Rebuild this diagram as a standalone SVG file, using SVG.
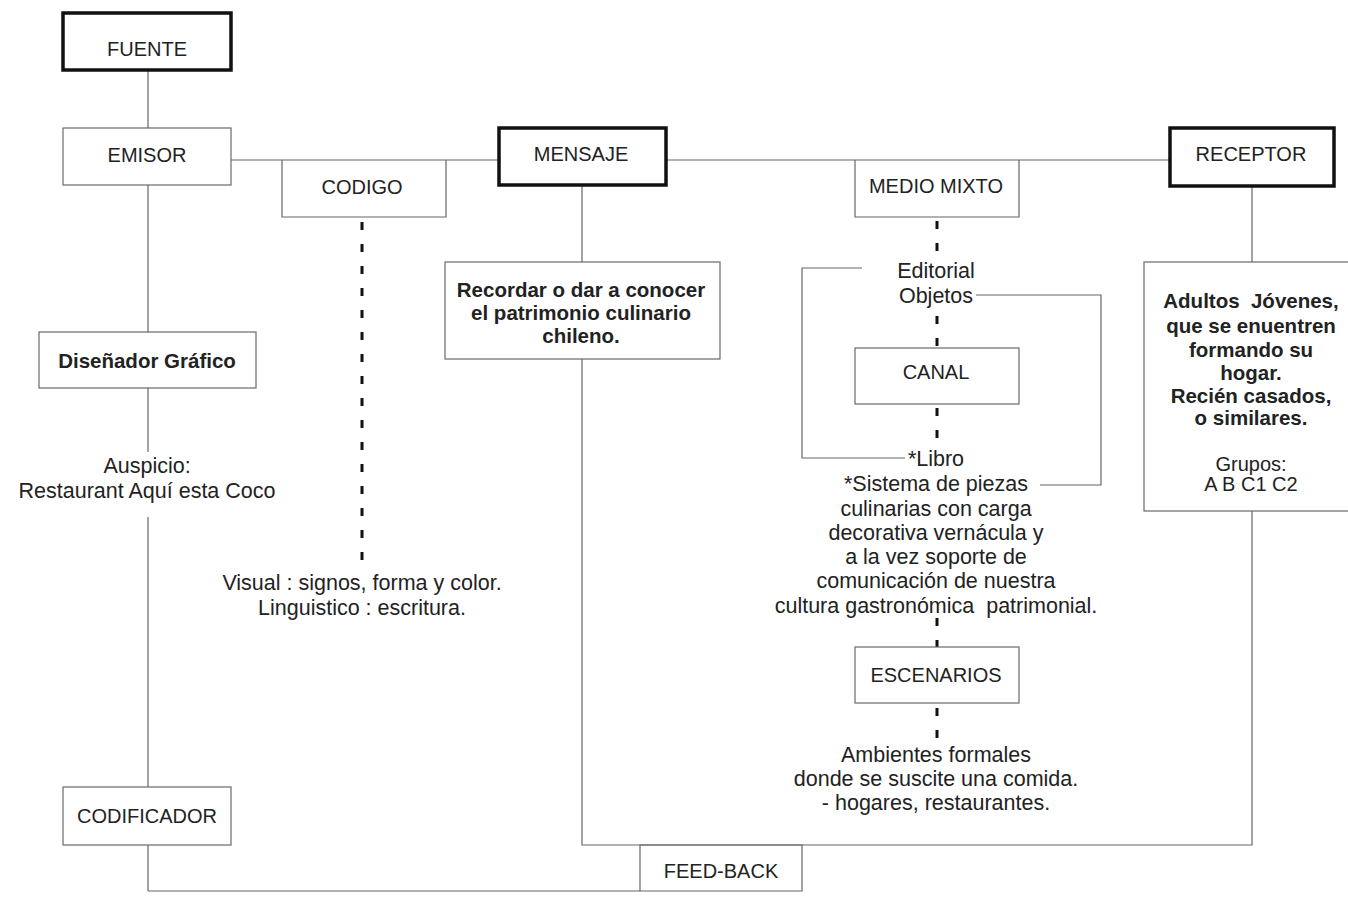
<svg xmlns="http://www.w3.org/2000/svg" width="1348" height="897" viewBox="0 0 1348 897">
<style>
.bg{fill:#ffffff}
.thin{fill:#ffffff;stroke:#6a6a6a;stroke-width:1.2}
.thick{fill:#ffffff;stroke:#111111;stroke-width:3.5}
.ln{fill:none;stroke:#666666;stroke-width:1.2}
.dash{fill:none;stroke:#111111;stroke-width:3;stroke-dasharray:8 14}
text{font-family:"Liberation Sans",Arial,sans-serif;font-size:20px;fill:#222222;text-anchor:middle}
.b{font-weight:bold;font-size:20.5px}
.m{font-size:21.5px}
</style>
<rect class="bg" x="0" y="0" width="1348" height="897"/>
<g id="connectors">
<line class="ln" x1="148" y1="70" x2="148" y2="128"/>
<line class="ln" x1="148" y1="185" x2="148" y2="332"/>
<line class="ln" x1="148" y1="388" x2="148" y2="452"/>
<line class="ln" x1="148" y1="517" x2="148" y2="787"/>
<line class="ln" x1="148" y1="845" x2="148" y2="891"/>
<line class="ln" x1="148" y1="891" x2="640" y2="891"/>
<line class="ln" x1="231" y1="160" x2="1170" y2="160"/>
<line class="ln" x1="582" y1="185" x2="582" y2="262"/>
<polyline class="ln" points="582,359 582,845 1252,845 1252,511"/>
<line class="ln" x1="1252" y1="186" x2="1252" y2="262"/>
<polyline class="ln" points="862,268 802,268 802,458 905,458"/>
<polyline class="ln" points="976,295 1101,295 1101,485 1040,485"/>
<line class="dash" x1="362" y1="222" x2="362" y2="562"/>
<line class="dash" x1="937" y1="221" x2="937" y2="255"/>
<line class="dash" x1="937" y1="316" x2="937" y2="348"/>
<line class="dash" x1="937" y1="408" x2="937" y2="442"/>
<line class="dash" x1="937" y1="618" x2="937" y2="647"/>
<line class="dash" x1="937" y1="708" x2="937" y2="740"/>
</g>
<g id="fuente"><rect class="thick" x="63" y="13" width="168" height="57"/><text x="147" y="56">FUENTE</text></g>
<g id="emisor"><rect class="thin" x="63" y="128" width="168" height="57"/><text x="147" y="162">EMISOR</text></g>
<g id="codigo"><polyline class="ln" points="282,160 282,217 446,217 446,160"/><text x="362" y="194">CODIGO</text></g>
<g id="mensaje"><rect class="thick" x="499" y="128" width="167" height="57"/><text x="581" y="161">MENSAJE</text></g>
<g id="medio"><polyline class="ln" points="855,160 855,217 1019,217 1019,160"/><text x="936" y="193">MEDIO MIXTO</text></g>
<g id="receptor"><rect class="thick" x="1170" y="128" width="164" height="58"/><text x="1251" y="161">RECEPTOR</text></g>
<g id="disenador"><rect class="thin" x="39" y="332" width="217" height="56"/><text class="b" x="147" y="368">Diseñador Gráfico</text></g>
<g id="auspicio"><text class="m" x="147" y="473">Auspicio:</text><text class="m" x="147" y="498">Restaurant Aquí esta Coco</text></g>
<g id="codigo-desc"><text class="m" x="362" y="590">Visual : signos, forma y color.</text><text class="m" x="362" y="615">Linguistico : escritura.</text></g>
<g id="mensaje-desc"><rect class="thin" x="445" y="262" width="275" height="97"/>
<text class="b" x="581" y="297">Recordar o dar a conocer</text>
<text class="b" x="581" y="320">el patrimonio culinario</text>
<text class="b" x="581" y="343">chileno.</text></g>
<g id="editorial"><text class="m" x="936" y="278">Editorial</text><text class="m" x="936" y="303">Objetos</text></g>
<g id="canal"><rect class="thin" x="855" y="348" width="164" height="56"/><text x="936" y="379">CANAL</text></g>
<g id="libro">
<text class="m" x="936" y="466">*Libro</text>
<text class="m" x="936" y="491">*Sistema de piezas</text>
<text class="m" x="936" y="516">culinarias con carga</text>
<text class="m" x="936" y="540">decorativa vernácula y</text>
<text class="m" x="936" y="564">a la vez soporte de</text>
<text class="m" x="936" y="588">comunicación de nuestra</text>
<text class="m" x="936" y="613" xml:space="preserve">cultura gastronómica  patrimonial.</text>
</g>
<g id="escenarios"><rect class="thin" x="855" y="647" width="164" height="56"/><text x="936" y="682">ESCENARIOS</text></g>
<g id="ambientes">
<text class="m" x="936" y="762">Ambientes formales</text>
<text class="m" x="936" y="786">donde se suscite una comida.</text>
<text class="m" x="936" y="810">- hogares, restaurantes.</text>
</g>
<g id="receptor-desc"><rect class="thin" x="1144" y="262" width="210" height="249"/>
<text class="b" x="1251" y="308" xml:space="preserve">Adultos  Jóvenes,</text>
<text class="b" x="1251" y="333">que se enuentren</text>
<text class="b" x="1251" y="357">formando su</text>
<text class="b" x="1251" y="380">hogar.</text>
<text class="b" x="1251" y="403">Recién casados,</text>
<text class="b" x="1251" y="425">o similares.</text>
<text x="1251" y="471">Grupos:</text>
<text x="1251" y="491">A B C1 C2</text>
</g>
<g id="codificador"><rect class="thin" x="63" y="787" width="168" height="58"/><text x="147" y="823">CODIFICADOR</text></g>
<g id="feedback"><polyline class="ln" points="640,891 640,845 802,845 802,891 640,891"/><text x="721" y="878">FEED-BACK</text></g>
</svg>
